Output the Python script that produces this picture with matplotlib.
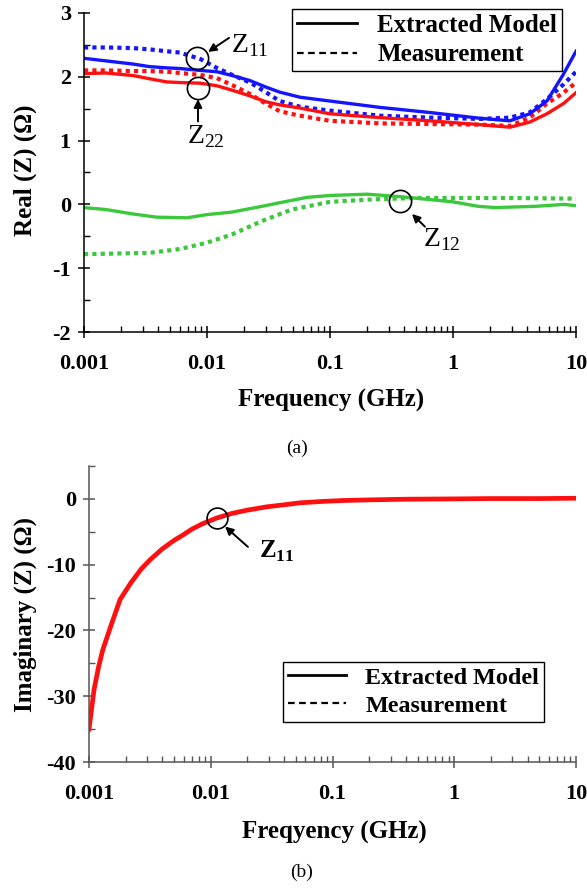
import numpy as np
import matplotlib
matplotlib.use("Agg")
import matplotlib.pyplot as plt
from matplotlib.lines import Line2D
from matplotlib.ticker import FixedLocator, NullFormatter

plt.rcParams['font.family'] = ['Liberation Serif', 'DejaVu Serif']
plt.rcParams['mathtext.fontset'] = 'custom'
plt.rcParams['mathtext.rm'] = 'Liberation Serif'
plt.rcParams['axes.unicode_minus'] = False

# --- data ---
f_zr = [0.001, 0.0015, 0.0025, 0.0034, 0.0047, 0.006, 0.0088, 0.012, 0.016, 0.0224,
        0.03, 0.039, 0.057, 0.1, 0.256, 0.65, 1.66, 2.9, 4.2, 5.8, 7.9, 10]
z11_model = [2.29, 2.25, 2.20, 2.16, 2.14, 2.13, 2.10, 2.08, 2.02, 1.94,
             1.84, 1.76, 1.68, 1.62, 1.52, 1.44, 1.35, 1.31, 1.42, 1.62, 2.04, 2.40]
z11_meas = [2.46, 2.46, 2.45, 2.43, 2.40, 2.38, 2.28, 2.14, 2.03, 1.91,
             1.76, 1.62, 1.53, 1.47, 1.39, 1.36, 1.34, 1.36, 1.44, 1.65, 1.88, 2.08]
z22_model = [2.05, 2.06, 2.02, 1.97, 1.92, 1.91, 1.90, 1.86, 1.79, 1.70,
             1.61, 1.56, 1.51, 1.42, 1.36, 1.31, 1.25, 1.21, 1.29, 1.42, 1.58, 1.75]
z22_meas = [2.10, 2.10, 2.09, 2.09, 2.08, 2.06, 2.03, 1.98, 1.87, 1.73,
            1.58, 1.46, 1.39, 1.31, 1.27, 1.26, 1.25, 1.23, 1.36, 1.58, 1.75, 1.91]

f_z12 = [0.001, 0.0015, 0.0025, 0.0039, 0.0069, 0.01, 0.016, 0.028, 0.045, 0.065,
         0.1, 0.2, 0.38, 1, 1.6, 2.2, 4.7, 8, 10]
z12_model = [-0.05, -0.08, -0.15, -0.20, -0.21, -0.16, -0.12, -0.03, 0.05, 0.11,
             0.14, 0.16, 0.12, 0.04, -0.03, -0.05, -0.03, 0.0, -0.02]
f_z12m = [0.001, 0.0034, 0.006, 0.01, 0.016, 0.028, 0.049, 0.1, 0.23, 0.5, 1, 3, 10]
z12_meas = [-0.78, -0.76, -0.70, -0.60, -0.47, -0.26, -0.08, 0.04, 0.08, 0.10, 0.10, 0.10, 0.09]

f_zi = [0.001, 0.0011, 0.0012, 0.0013, 0.0015, 0.0018, 0.0022, 0.0027, 0.0032, 0.004,
        0.005, 0.0059, 0.007, 0.0085, 0.0112, 0.015, 0.02, 0.029, 0.04, 0.054,
        0.08, 0.12, 0.2, 0.4, 1, 2, 5, 10]
zi11_model = [-35, -29, -25.5, -22.9, -19.5, -15.3, -12.8, -10.6, -9.2, -7.6,
              -6.3, -5.5, -4.6, -3.8, -2.9, -2.2, -1.7, -1.2, -0.9, -0.6,
              -0.4, -0.25, -0.15, -0.05, 0.0, 0.05, 0.05, 0.1]
zi11_meas = [-35, -29.2, -25.7, -23.1, -19.7, -15.5, -13.0, -10.85, -9.45, -7.85,
             -6.55, -5.75, -4.85, -4.05, -3.15, -2.45, -1.9, -1.4, -1.05, -0.75,
             -0.5, -0.3, -0.18, -0.07, 0.0, 0.05, 0.05, 0.1]

xticks = [0.001, 0.01, 0.1, 1, 10]
xticklabels = ['0.001', '0.01', '0.1', '1', '10']

BLUE = '#1414ff'
RED = '#ff1010'
GREEN = '#3cc83c'
dots = (0, (1, 1))

fig = plt.figure(figsize=(5.87, 8.89), dpi=100)
ax1 = fig.add_axes([84/587, 1-332/889, 492/587, 319/889])
ax2 = fig.add_axes([89/587, 1-762/889, 487/587, 296/889])

# top: real part
ax1.plot(f_zr, z11_meas, color=BLUE, lw=3.0, ls=dots, dash_capstyle='butt')
ax1.plot(f_zr, z22_meas, color=RED, lw=3.0, ls=dots, dash_capstyle='butt')
ax1.plot(f_z12m, z12_meas, color=GREEN, lw=3.0, ls=dots, dash_capstyle='butt')
ax1.plot(f_zr, z11_model, color=BLUE, lw=2.4)
ax1.plot(f_zr, z22_model, color=RED, lw=2.4)
ax1.plot(f_z12, z12_model, color=GREEN, lw=2.4)
ax1.set_ylim(-2, 3)
ax1.set_yticks([-2, -1, 0, 1, 2, 3])
ax1.yaxis.set_minor_locator(FixedLocator(np.arange(-1.5, 3, 1.0)))

# bottom: imaginary part
ax2.plot(f_zi, zi11_meas, color='#3030c0', lw=0.8, ls=(0, (3, 2)))
ax2.plot(f_zi, zi11_model, color=RED, lw=3.4)
ax2.set_ylim(-40, 5)
ax2.set_yticks([-40, -30, -20, -10, 0])
ax2.yaxis.set_minor_locator(FixedLocator([-35, -25, -15, -5, 5]))

for ax, col in ((ax1, 'black'), (ax2, '#555555')):
    ax.set_xscale('log')
    ax.set_xlim(0.001, 10)
    ax.set_xticks(xticks)
    ax.set_xticklabels(xticklabels)
    minors = [m * 10.0**e for e in range(-3, 1) for m in range(2, 10)]
    ax.xaxis.set_minor_locator(FixedLocator(minors))
    ax.xaxis.set_minor_formatter(NullFormatter())
    for s in ('top', 'right'):
        ax.spines[s].set_visible(False)
    for s in ('left', 'bottom'):
        ax.spines[s].set_color(col)
        ax.spines[s].set_linewidth(1.1)
    ax.tick_params(which='major', direction='inout', length=9, width=1.1, color=col,
                   labelsize=16, pad=5)
    ax.tick_params(which='minor', direction='in', length=4, width=1.0, color=col)
    ax.tick_params(axis='x', pad=11)
    for lab in ax.get_xticklabels() + ax.get_yticklabels():
        lab.set_fontweight('bold')
    ax.set_facecolor('none')

# annotations (circles + arrows)
arrow = dict(arrowstyle='-|>', color='black', lw=1.4, mutation_scale=12, shrinkA=0, shrinkB=0)
ax1.plot([0.0083, 0.0085, 0.37], [2.30, 1.83, 0.05], 'o', ms=16, mfc='none', mec='black', mew=1.2)
ax1.annotate('', xy=(0.0102, 2.39), xytext=(0.0151, 2.61), arrowprops=arrow)
ax1.text(0.0158, 2.49, r'Z$_{\mathregular{11}}$', fontsize=20, ha='left', va='center')
ax1.annotate('', xy=(0.00845, 1.65), xytext=(0.00845, 1.30), arrowprops=arrow)
ax1.text(0.0098, 1.06, r'Z$_{\mathregular{22}}$', fontsize=20, ha='center', va='center')
ax1.annotate('', xy=(0.464, -0.15), xytext=(0.592, -0.35), arrowprops=arrow)
ax1.text(0.57, -0.55, r'Z$_{\mathregular{12}}$', fontsize=20, ha='left', va='center')

ax2.plot([0.0112], [-2.9], 'o', ms=15, mfc='none', mec='black', mew=1.2)
ax2.annotate('', xy=(0.0131, -4.2), xytext=(0.0202, -7.3), arrowprops=arrow)
ax2.text(0.0250, -8.0, r'Z$_{\mathregular{11}}$', fontsize=18, fontweight='bold',
         ha='left', va='center')

# legends
handles = [Line2D([], [], color='black', lw=2.0),
           Line2D([], [], color='black', lw=1.6, ls=(0, (3, 2)))]
labels = ['Extracted Model', 'Measurement']
for ax, anchor, size in ((ax1, (562/587, 1-9/889), 18), (ax2, (544/587, 1-662/889), 17.4)):
    leg = ax.legend(handles, labels, loc='upper right', bbox_to_anchor=anchor,
                    bbox_transform=fig.transFigure, prop={'weight': 'bold', 'size': size},
                    frameon=True, fancybox=False, edgecolor='black', framealpha=1,
                    borderpad=0.2, labelspacing=0.25, handlelength=2.4,
                    handletextpad=0.8, borderaxespad=0)
    leg.get_frame().set_linewidth(1.0)

# axis labels and captions
fig.text(0.564, 1-400/889, 'Frequency (GHz)', fontsize=18, fontweight='bold', ha='center', va='center')
fig.text(0.506, 1-448/889, '(a)', fontsize=14, ha='center', va='center')
fig.text(25/587, 1-170/889, 'Real (Z) (Ω)', fontsize=18, fontweight='bold', rotation=90,
         ha='center', va='center')
fig.text(0.570, 1-832/889, 'Freqyency (GHz)', fontsize=18, fontweight='bold', ha='center', va='center')
fig.text(302/587, 1-872/889, '(b)', fontsize=14, ha='center', va='center')
fig.text(25/587, 1-615/889, 'Imaginary (Z) (Ω)', fontsize=18, fontweight='bold', rotation=90,
         ha='center', va='center')

fig.savefig('out.png', dpi=100)
